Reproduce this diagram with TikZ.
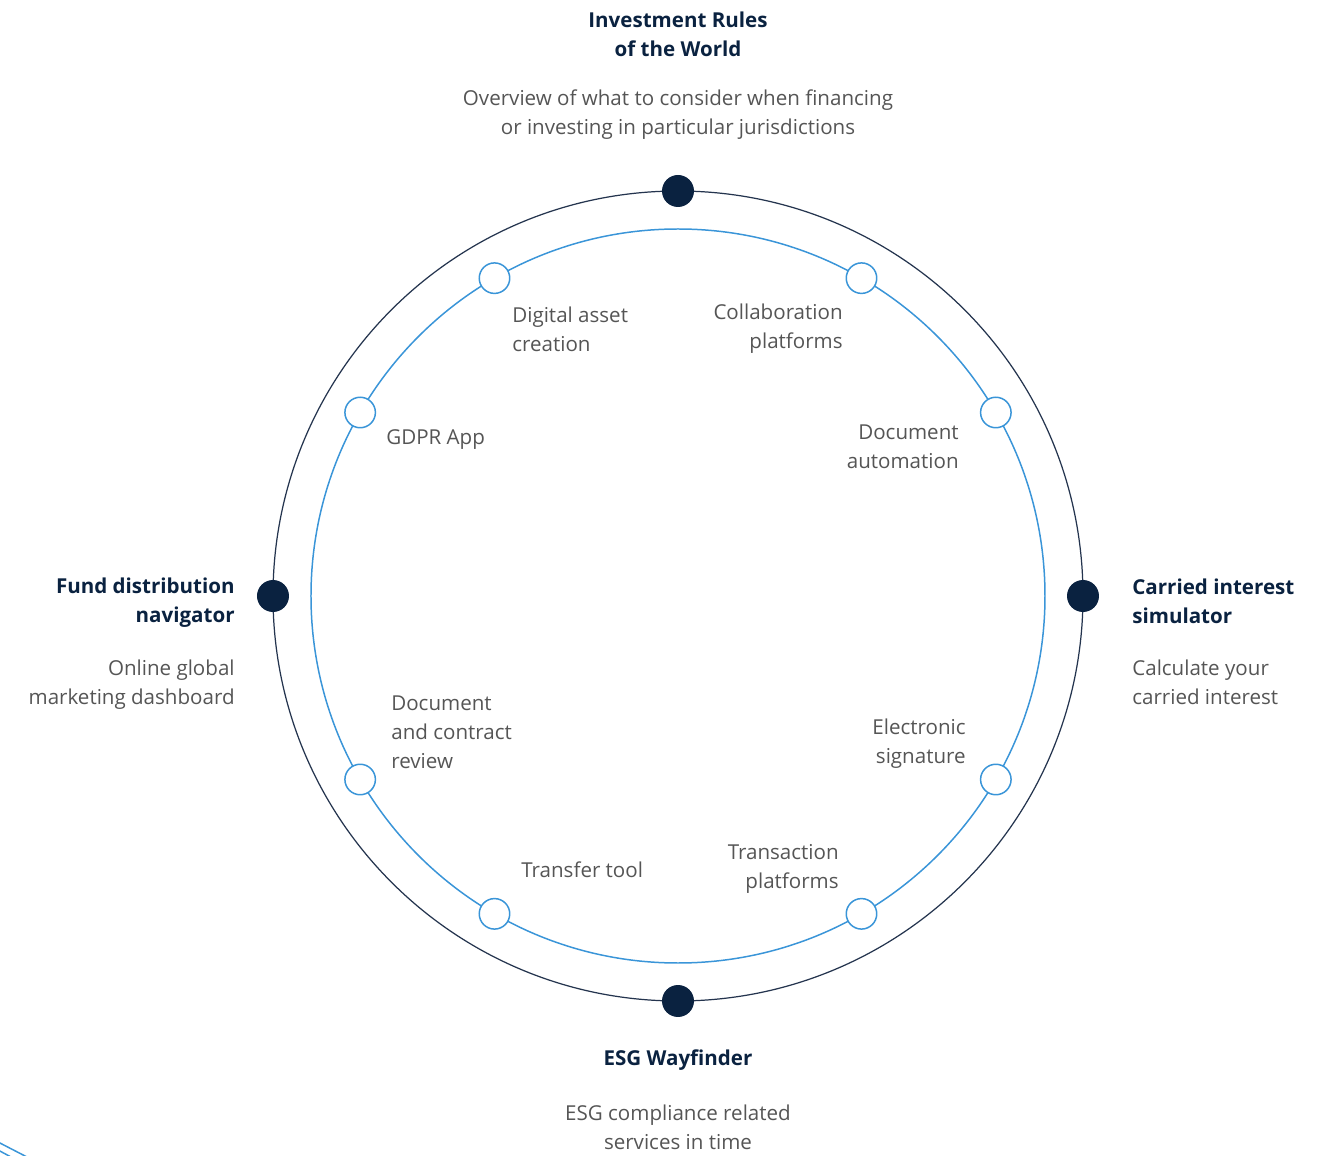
\documentclass[tikz,border=0pt]{standalone}
\usepackage{fontspec}
\setmainfont{Open Sans}
\usepackage{tikz}
\usetikzlibrary{positioning}
\definecolor{navy}{HTML}{0A2240}
\definecolor{ring}{HTML}{24344E}
\definecolor{sky}{HTML}{3A95D8}
\definecolor{grey}{HTML}{555555}
\tikzset{
  outer/.style={draw=ring, line width=0.7pt},
  inner/.style={draw=sky, line width=0.85pt},
  hub/.style={circle, fill=navy, inner sep=0pt, minimum size=0.64cm},
  stop/.style={circle, draw=sky, fill=white, line width=0.85pt, inner sep=0pt, minimum size=0.61cm},
  head/.style={text=navy, font=\fontsize{11.7}{16.5}\selectfont\bfseries, inner sep=0pt},
  desc/.style={text=grey, font=\fontsize{11.7}{16.6}\selectfont, inner sep=0pt},
}

\begin{document}
\begin{tikzpicture}[x=0.02cm, y=0.02cm]
  \useasboundingbox (-678,-560) rectangle (658,596);
  \def\ro{405}
  \def\ri{367}
  \coordinate (C) at (0,0);
  \draw[outer] (C) circle (\ro);
  \draw[inner] (C) circle (\ri);
  % edge decoration, bottom left
  \begin{scope}
    \clip (-678,-560) rectangle (658,596);
    \draw[inner] (-680,-546) -- (-651,-561);
    \draw[inner] (-680,-554) -- (-667,-561);
  \end{scope}
  % main tools on the outer ring
  \node[hub] (rules) at (90:\ro) {};
  \node[hub] (carried) at (0:\ro) {};
  \node[hub] (esg) at (270:\ro) {};
  \node[hub] (fund) at (180:\ro) {};
  % smaller tools on the inner ring
  \foreach \a/\n in {120/digital, 60/collab, 150/gdpr, 30/docauto,
                     210/review, 330/esign, 240/transfer, 300/transact}
    \node[stop] (\n) at (\a:\ri) {};
  % outer labels
  \node[head, align=center] (rulesT) at (0,561.5) {Investment Rules\\of the World};
  \node[desc, align=center] (rulesD) at (0,481.5) {Overview of what to consider when financing\\or investing in particular jurisdictions};
  \node[head, align=right, anchor=east] (fundT) at (-443,-6.5) {Fund distribution\\navigator};
  \node[desc, align=right, anchor=east] (fundD) at (-443,-88.5) {Online global\\marketing dashboard};
  \node[head, align=left, anchor=west] (carriedT) at (454,-5) {Carried interest\\simulator};
  \node[desc, align=left, anchor=west] (carriedD) at (454,-86) {Calculate your\\carried interest};
  \node[head] (esgT) at (0,-464) {ESG Wayfinder};
  \node[desc, align=center] (esgD) at (0,-531) {ESG compliance related\\services in time};
  % inner labels
  \node[desc, align=left, anchor=west] (digitalT) at (-166,267) {Digital asset\\creation};
  \node[desc, align=right, anchor=east] (collabT) at (165,267) {Collaboration\\platforms};
  \node[desc, anchor=west] (gdprT) at (-292,156) {GDPR App};
  \node[desc, align=right, anchor=east] (docautoT) at (281,149) {Document\\automation};
  \node[desc, align=left, anchor=west] (reviewT) at (-287,-136) {Document\\and contract\\review};
  \node[desc, align=right, anchor=east] (esignT) at (288,-148) {Electronic\\signature};
  \node[desc, anchor=west] (transferT) at (-157,-274) {Transfer tool};
  \node[desc, align=right, anchor=east] (transactT) at (161,-273) {Transaction\\platforms};
\end{tikzpicture}
\end{document}
